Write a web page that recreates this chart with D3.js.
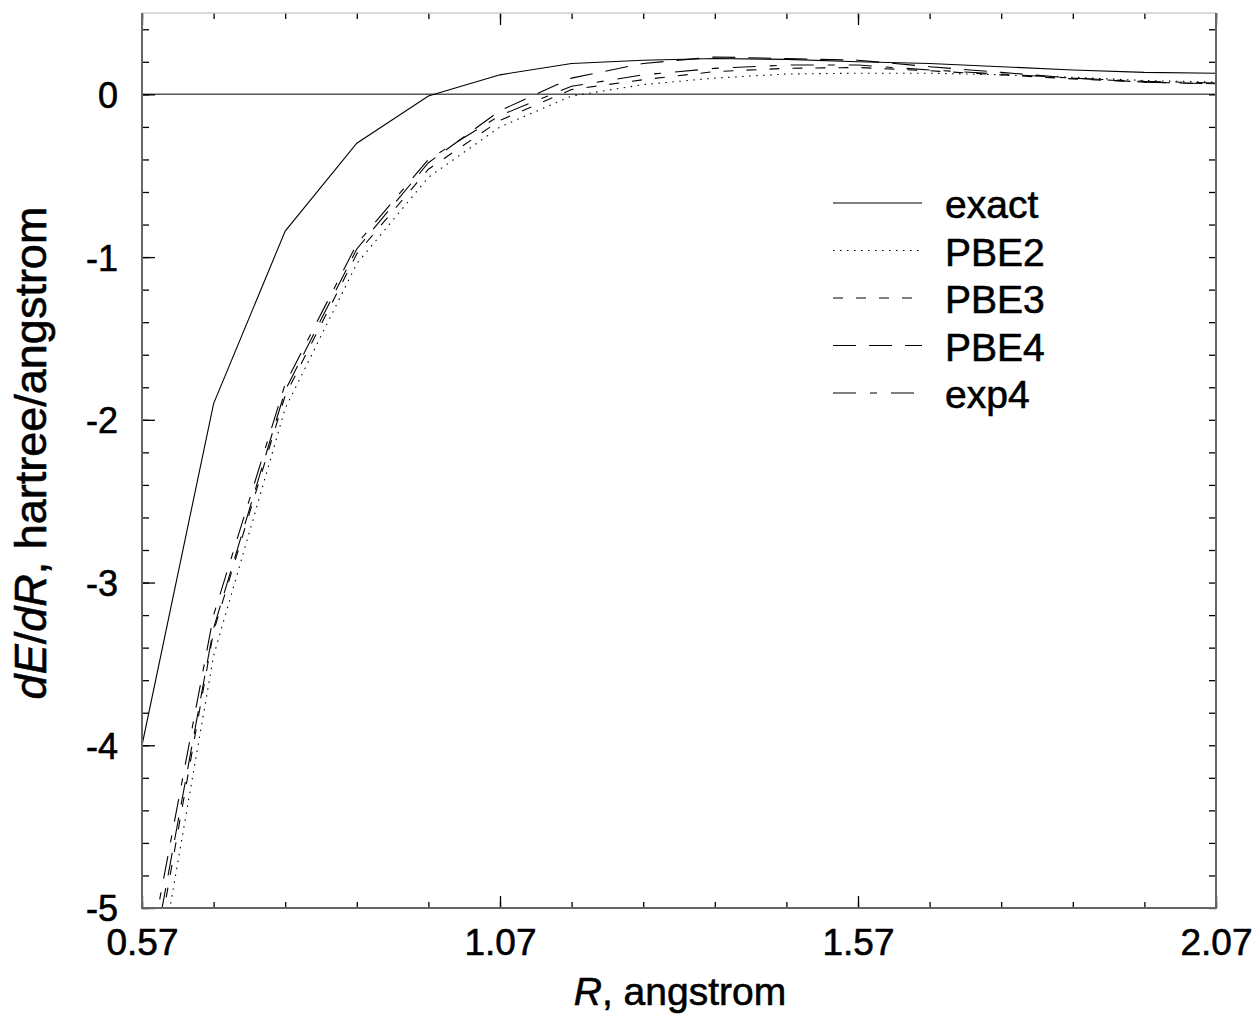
<!DOCTYPE html>
<html>
<head>
<meta charset="utf-8">
<script src="https://cdn.jsdelivr.net/npm/d3@7"></script>
<style>
    body { margin: 0; background: #fff; }
    svg text { font-family: "Liberation Sans", Arial, sans-serif; fill: #000; stroke: #000; stroke-width: 0.6px; }
</style>
</head>
<body>
<svg id="chart" width="1258" height="1014"></svg>
<script>
// R values (angstrom)
var rValues = [0.57, 0.67, 0.77, 0.87, 0.97, 1.07, 1.17, 1.27, 1.37, 1.47, 1.57, 1.67, 1.77, 1.87, 1.97, 2.07];

// dE/dR values (hartree/angstrom)
var exact = [-4.00, -1.90, -0.84, -0.30, -0.01, 0.12, 0.19, 0.21, 0.22, 0.215, 0.20, 0.19, 0.17, 0.15, 0.135, 0.13];
var pbe2 = [-5.99, -3.45, -1.93, -1.04, -0.51, -0.20, -0.01, 0.06, 0.10, 0.125, 0.13, 0.13, 0.12, 0.105, 0.085, 0.075];
var pbe3 = [-5.77, -3.30, -1.85, -0.98, -0.46, -0.16, 0.03, 0.09, 0.14, 0.16, 0.165, 0.145, 0.12, 0.095, 0.075, 0.065];
var pbe4 = [-5.67, -3.28, -1.82, -0.95, -0.42, -0.10, 0.10, 0.19, 0.23, 0.22, 0.21, 0.17, 0.135, 0.10, 0.075, 0.065];
var exp4 = [-5.52, -3.20, -1.78, -0.92, -0.40, -0.13, 0.05, 0.12, 0.16, 0.18, 0.18, 0.15, 0.125, 0.10, 0.08, 0.07];

var seriesNames = ['exact', 'PBE2', 'PBE3', 'PBE4', 'exp4'];
var seriesData = [exact, pbe2, pbe3, pbe4, exp4];
var seriesDash = [null, '1.5,5.5', '10,13', '23,13', '23,14,7,14'];

var xMajor = [0.57, 1.07, 1.57, 2.07];
var yMajor = [-5, -4, -3, -2, -1, 0];

var plotLeft = 142, plotRight = 1216, plotTop = 13, plotBottom = 908;

var svg = d3.select('#chart');

var x = d3.scaleLinear().domain([0.57, 2.07]).range([plotLeft, plotRight]);
var y = d3.scaleLinear().domain([-5, 0.5]).range([plotBottom, plotTop]);

var xMinor = d3.range(0, 16).map(function (i) { return +(0.57 + i * 0.1).toFixed(2); });
var yMinor = d3.range(0, 28).map(function (i) { return +(-5 + i * 0.2).toFixed(1); });

// 裁剪
svg.append('defs').append('clipPath')
    .attr('id', 'plotClip')
    .append('rect')
    .attr('x', plotLeft)
    .attr('y', plotTop)
    .attr('width', plotRight - plotLeft)
    .attr('height', plotBottom - plotTop);

// 零线
svg.append('line')
    .attr('x1', plotLeft)
    .attr('x2', plotRight)
    .attr('y1', y(0))
    .attr('y2', y(0))
    .attr('stroke', '#555')
    .attr('stroke-width', 1.5);

// 曲线
var line = d3.line()
    .x(function (d, i) { return x(rValues[i]); })
    .y(function (d) { return y(d); });

var curves = svg.append('g').attr('clip-path', 'url(#plotClip)');

seriesData.forEach(function (data, i) {
    curves.append('path')
        .attr('d', line(data))
        .attr('fill', 'none')
        .attr('stroke', '#000')
        .attr('stroke-width', 1.1)
        .attr('stroke-dasharray', seriesDash[i]);
});

// 坐标轴
function addAxis(axis, transform) {
    var g = svg.append('g')
        .attr('transform', transform)
        .call(axis);
    g.select('.domain').remove();
    g.selectAll('line').attr('stroke', '#000').attr('stroke-width', 1.3);
    return g;
}

addAxis(d3.axisLeft(y).tickValues(yMinor).tickSize(-7).tickFormat(''), 'translate(' + plotLeft + ',0)');
addAxis(d3.axisRight(y).tickValues(yMinor).tickSize(-7).tickFormat(''), 'translate(' + plotRight + ',0)');
addAxis(d3.axisTop(x).tickValues(xMinor).tickSize(-6).tickFormat(''), 'translate(0,' + plotTop + ')');
addAxis(d3.axisBottom(x).tickValues(xMinor).tickSize(-6).tickFormat(''), 'translate(0,' + plotBottom + ')');

var yAxis = addAxis(d3.axisLeft(y).tickValues(yMajor).tickSize(-13).tickPadding(24)
    .tickFormat(function (d) { return String(d); }), 'translate(' + plotLeft + ',0)');
yAxis.selectAll('text')
    .attr('font-size', 36)
    .attr('dy', '0.36em');
addAxis(d3.axisTop(x).tickValues(xMajor).tickSize(-12).tickFormat(''), 'translate(0,' + plotTop + ')');

var xAxis = addAxis(d3.axisBottom(x).tickValues(xMajor).tickSize(-12)
    .tickFormat(d3.format('.2f')), 'translate(0,' + plotBottom + ')');
xAxis.selectAll('text')
    .attr('font-size', 37)
    .attr('dy', 0)
    .attr('y', 47);

// 边框
svg.append('line')
    .attr('x1', plotLeft).attr('x2', plotRight).attr('y1', plotTop).attr('y2', plotTop)
    .attr('stroke', '#ccc').attr('stroke-width', 1.5);
svg.append('path')
    .attr('d', 'M' + plotLeft + ',' + plotTop + ' L' + plotLeft + ',' + plotBottom + ' L' + plotRight + ',' + plotBottom + ' L' + plotRight + ',' + plotTop)
    .attr('fill', 'none')
    .attr('stroke', '#666')
    .attr('stroke-width', 2);

// 轴标题
var xTitle = svg.append('text')
    .attr('x', 680)
    .attr('y', 1005)
    .attr('text-anchor', 'middle')
    .attr('font-size', 39);
xTitle.append('tspan').attr('font-style', 'italic').text('R');
xTitle.append('tspan').text(', angstrom');

var yTitle = svg.append('text')
    .attr('transform', 'translate(46,453) rotate(-90)')
    .attr('text-anchor', 'middle')
    .attr('font-size', 45);
yTitle.append('tspan').attr('font-style', 'italic').text('dE');
yTitle.append('tspan').text('/');
yTitle.append('tspan').attr('font-style', 'italic').text('dR');
yTitle.append('tspan').text(', hartree/angstrom');

// 图例
var legend = svg.append('g').attr('transform', 'translate(833,203)');
seriesNames.forEach(function (name, i) {
    var row = legend.append('g').attr('transform', 'translate(0,' + (i * 47.5) + ')');
    row.append('line')
        .attr('x1', 0).attr('x2', 89).attr('y1', 0).attr('y2', 0)
        .attr('stroke', '#000')
        .attr('stroke-width', 1.1)
        .attr('stroke-dasharray', seriesDash[i]);
    row.append('text')
        .attr('x', 112)
        .attr('y', 15)
        .attr('font-size', 39)
        .text(name);
});
</script>
</body>
</html>
